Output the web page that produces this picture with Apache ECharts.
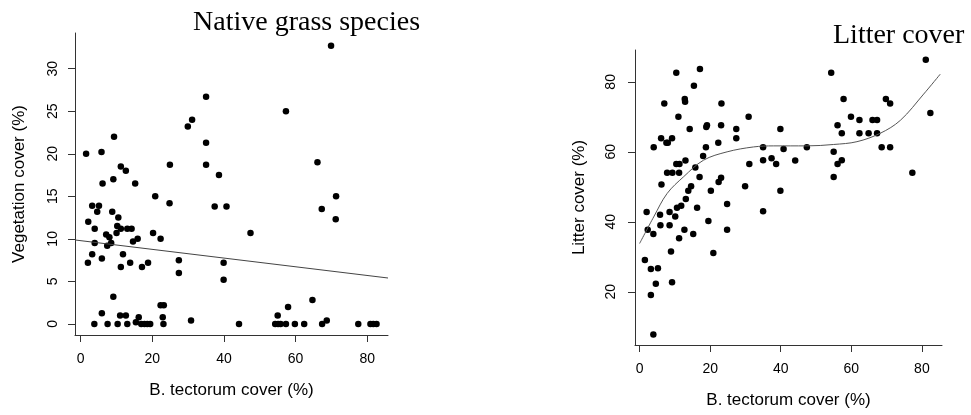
<!DOCTYPE html>
<html>
<head>
<meta charset="utf-8">
<script src="https://cdn.jsdelivr.net/npm/echarts/dist/echarts.min.js"></script>
<style>
  html, body { margin: 0; padding: 0; background: #fff; }
  #chart { width: 971px; height: 415px; }
</style>
</head>
<body>
<div id="chart"></div>
<script>
// B. tectorum cover (%) vs native grass cover (%)
const grassPoints = [
  [1.5, 20.0], [5.8, 20.2], [9.3, 22.0], [6.1, 16.5], [9.1, 17.0], [11.2, 18.5], [12.6, 18.0],
  [15.2, 16.5], [20.8, 15.0], [24.9, 18.7], [29.9, 23.2], [31.1, 24.0], [35.0, 26.7], [35.0, 21.3],
  [35.0, 18.7], [38.6, 17.5], [57.3, 25.0], [66.1, 19.0], [69.9, 32.7], [71.3, 15.0],
  [24.8, 14.2], [3.2, 13.9], [5.1, 13.9], [4.6, 13.2], [2.1, 12.0], [3.9, 11.2], [8.8, 13.2],
  [10.5, 12.5], [10.2, 11.5], [11.2, 11.2], [13.0, 11.2], [14.2, 11.2], [7.1, 10.5], [8.0, 10.2],
  [10.0, 10.7], [14.6, 9.7], [15.9, 10.0], [20.2, 10.7], [22.3, 10.0], [3.9, 9.5], [7.4, 9.2],
  [8.5, 9.5], [2.0, 7.2], [3.2, 8.2], [5.9, 7.7], [11.8, 8.2], [11.2, 6.7], [13.8, 7.2], [17.1, 6.7],
  [18.8, 7.2], [27.4, 7.5], [27.4, 6.0], [37.4, 13.8], [40.7, 13.8], [39.9, 7.2], [39.9, 5.2],
  [47.4, 10.7], [67.3, 13.5], [71.2, 12.3],
  [9.1, 3.2], [5.9, 1.25], [11.0, 1.0], [12.6, 1.0], [16.2, 0.8], [15.4, 0.2], [22.3, 2.2],
  [23.2, 2.2], [22.9, 0.8], [30.8, 0.4], [55.0, 1.0], [57.9, 2.0], [64.7, 2.8], [68.7, 0.4],
  [3.8, 0], [7.5, 0], [10.3, 0], [13.0, 0], [16.9, 0], [17.8, 0], [18.6, 0], [19.4, 0], [23.1, 0],
  [44.2, 0], [54.3, 0], [55.1, 0], [55.8, 0], [57.3, 0], [59.8, 0], [62.4, 0], [67.4, 0],
  [77.5, 0], [80.9, 0], [81.7, 0], [82.6, 0]
]
// fitted line, read at the plot edges
const grassFit = [[-1.6, 9.87], [85.8, 5.4]]

// B. tectorum cover (%) vs litter cover (%)
const litterPoints = [
  [4.0, 61.3], [6.1, 63.9], [7.6, 62.6], [8.0, 62.6], [9.2, 63.9], [7.0, 73.8], [10.4, 82.6],
  [11.0, 70.0], [12.8, 75.1], [12.9, 74.3], [14.2, 66.5], [15.4, 78.9], [17.1, 83.7], [18.9, 67.1],
  [19.1, 67.6], [18.8, 61.3], [18.0, 58.8], [23.2, 73.8], [23.1, 67.6], [22.3, 62.6], [27.4, 66.5],
  [27.4, 63.9], [30.9, 70.0], [31.1, 56.5], [29.9, 50.2], [35.0, 61.3], [35.0, 57.6], [37.4, 58.2],
  [38.7, 56.5], [39.9, 66.5], [40.8, 60.8], [39.9, 48.9], [44.1, 57.5], [47.4, 61.3], [54.3, 82.6],
  [55.0, 60.0], [55.0, 52.8], [56.1, 67.6], [56.1, 56.5], [57.3, 57.6], [57.3, 65.3], [57.8, 75.1],
  [59.9, 70.0], [62.3, 69.1], [62.3, 65.3], [64.9, 65.3], [66.0, 69.1], [67.3, 69.1], [67.3, 65.3],
  [68.6, 61.3], [69.8, 75.1], [71.0, 73.8], [71.0, 61.3], [77.3, 54.0], [81.1, 86.3], [82.4, 71.1],
  [20.2, 48.9], [22.4, 51.4], [23.1, 52.6], [17.0, 52.8], [15.8, 55.5], [13.0, 57.5], [10.4, 56.5],
  [11.3, 56.5], [7.8, 54.0], [9.3, 54.0], [11.2, 54.0], [6.2, 50.7], [13.8, 48.9], [14.6, 50.2],
  [13.1, 46.5], [35.0, 43.0],
  [2.0, 42.8], [5.8, 42.0], [8.5, 42.8], [10.6, 44.0], [11.8, 44.6], [16.3, 44.0], [24.8, 45.1],
  [10.1, 41.5], [2.3, 37.7], [3.9, 36.5], [5.9, 39.0], [8.5, 39.0], [12.7, 37.7], [11.2, 35.3],
  [15.2, 36.5], [19.5, 40.2], [24.8, 37.7], [8.9, 31.5], [20.9, 31.1], [1.5, 29.1], [3.2, 26.5],
  [5.2, 26.7], [4.6, 22.3], [9.2, 22.7], [3.2, 19.1], [3.9, 7.8]
]
// fitted curve
const litterCurve = [
  [0, 33.8], [4, 41.4], [7.8, 48.1], [12.5, 52.9], [18.1, 57.6], [24.8, 60], [32.3, 61.4],
  [38, 61.7], [47.4, 61.7], [55, 62.1], [61.6, 62.9], [68.2, 65.3], [73.9, 69], [80.5, 76.5],
  [85.2, 82.2]
]

const xTicks = [0, 20, 40, 60, 80]
const grassTicks = [0, 5, 10, 15, 20, 25, 30]
const litterTicks = [20, 40, 60, 80]

const sans = 'Liberation Sans'
const axisColor = '#333'

function xAxisOpt(gridIndex, min, max) {
  return {
    type: 'value',
    gridIndex: gridIndex,
    min: min,
    max: max,
    name: 'B. tectorum cover (%)',
    nameLocation: 'middle',
    nameGap: 47,
    nameTextStyle: { fontFamily: sans, fontSize: 17, color: '#000' },
    axisLine: { show: true, onZero: false, lineStyle: { color: axisColor, width: 1 } },
    axisTick: { show: true, length: 7, customValues: xTicks, lineStyle: { color: axisColor } },
    axisLabel: { customValues: xTicks, margin: 17, fontFamily: sans, fontSize: 14, color: '#000' },
    splitLine: { show: false }
  }
}

function yAxisOpt(gridIndex, min, max, ticks, name, margin, gap) {
  return {
    type: 'value',
    gridIndex: gridIndex,
    min: min,
    max: max,
    name: name,
    nameLocation: 'middle',
    nameGap: gap,
    nameTextStyle: { fontFamily: sans, fontSize: 17, color: '#000' },
    axisLine: { show: true, onZero: false, lineStyle: { color: axisColor, width: 1 } },
    axisTick: { show: true, length: 7, customValues: ticks, lineStyle: { color: axisColor } },
    axisLabel: { customValues: ticks, rotate: 90, margin: margin, fontFamily: sans, fontSize: 14, color: '#000' },
    splitLine: { show: false }
  }
}

const chart = echarts.init(document.getElementById('chart'))

chart.setOption({
  animation: false,
  backgroundColor: '#fff',
  title: [
    {
      text: 'Native grass species',
      left: 188,
      top: 4,
      textStyle: { fontFamily: 'Liberation Serif', fontSize: 28, fontWeight: 'normal', color: '#000' }
    },
    {
      text: 'Litter cover',
      left: 828,
      top: 17,
      textStyle: { fontFamily: 'Liberation Serif', fontSize: 28, fontWeight: 'normal', color: '#000' }
    }
  ],
  grid: [
    { left: 75, top: 33, width: 313, height: 302 },
    { left: 635, top: 50, width: 307, height: 295 }
  ],
  xAxis: [
    xAxisOpt(0, -1.6, 85.8),
    xAxisOpt(1, -1.3, 85.7)
  ],
  yAxis: [
    yAxisOpt(0, -1.3, 34.2, grassTicks, 'Vegetation cover (%)', 15, 47),
    yAxisOpt(1, 4.8, 89.1, litterTicks, 'Litter cover (%)', 17, 47)
  ],
  series: [
    {
      type: 'scatter',
      xAxisIndex: 0,
      yAxisIndex: 0,
      data: grassPoints,
      symbolSize: 6.5,
      itemStyle: { color: '#000', opacity: 1 }
    },
    {
      type: 'line',
      xAxisIndex: 0,
      yAxisIndex: 0,
      data: grassFit,
      symbol: 'none',
      lineStyle: { color: '#444', width: 1 }
    },
    {
      type: 'scatter',
      xAxisIndex: 1,
      yAxisIndex: 1,
      data: litterPoints,
      symbolSize: 6.5,
      itemStyle: { color: '#000', opacity: 1 }
    },
    {
      type: 'line',
      xAxisIndex: 1,
      yAxisIndex: 1,
      data: litterCurve,
      smooth: 0.35,
      symbol: 'none',
      lineStyle: { color: '#555', width: 1 }
    }
  ]
})
</script>
</body>
</html>
